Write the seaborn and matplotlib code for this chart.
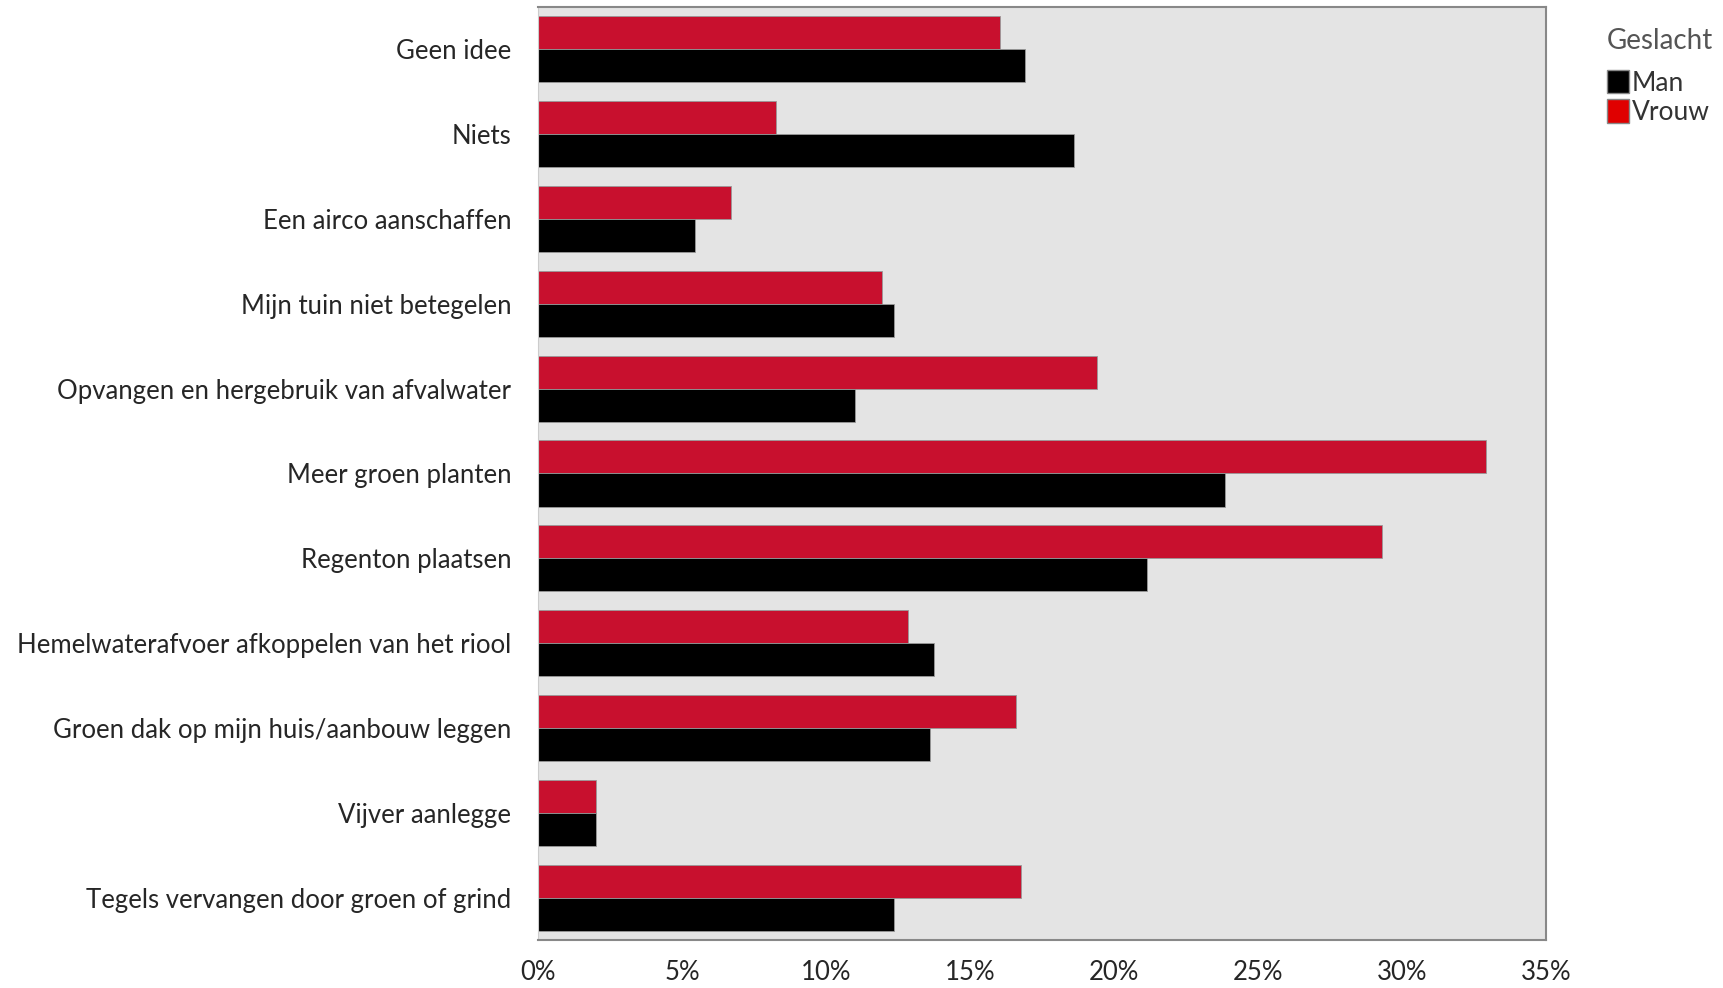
import matplotlib
matplotlib.use("Agg")
import matplotlib.pyplot as plt
import matplotlib.patches as mpatches
from matplotlib.ticker import PercentFormatter
import pandas as pd
import seaborn as sns

# Data (percent)
categories = [
    "Geen idee",
    "Niets",
    "Een airco aanschaffen",
    "Mijn tuin niet betegelen",
    "Opvangen en hergebruik van afvalwater",
    "Meer groen planten",
    "Regenton plaatsen",
    "Hemelwaterafvoer afkoppelen van het riool",
    "Groen dak op mijn huis/aanbouw leggen",
    "Vijver aanlegge",
    "Tegels vervangen door groen of grind",
]
vrouw = [16.05, 8.25, 6.7, 11.95, 19.4, 32.9, 29.3, 12.85, 16.6, 2.0, 16.75]
man = [16.9, 18.6, 5.45, 12.35, 11.0, 23.85, 21.15, 13.75, 13.6, 2.0, 12.35]

df = pd.DataFrame({
    "categorie": categories * 2,
    "geslacht": ["Vrouw"] * len(categories) + ["Man"] * len(categories),
    "pct": vrouw + man,
})

sns.set_style("white")
plt.rcParams["font.family"] = ["Lato", "DejaVu Sans"]

fig = plt.figure(figsize=(17.24, 9.88), dpi=100)
ax = fig.add_axes([0.312, 0.0485, 0.585, 0.9445])

red = "#c8102e"
sns.barplot(data=df, y="categorie", x="pct", hue="geslacht",
            hue_order=["Vrouw", "Man"], palette={"Vrouw": red, "Man": "black"},
            order=categories, width=0.78, orient="h", ax=ax, saturation=1,
            edgecolor="#999999", linewidth=0.6, legend=False)

ax.set_facecolor("#e4e4e4")
ax.set_xlim(0, 35)
ax.set_xticks(range(0, 36, 5))
ax.xaxis.set_major_formatter(PercentFormatter(decimals=0))
ax.set_xlabel("")
ax.set_ylabel("")
ax.tick_params(axis="x", length=8, width=1.2, color="#888888", labelsize=18.5, pad=6)
ax.tick_params(axis="y", length=0, labelsize=18.5, pad=19)
for side in ["top", "right", "bottom"]:
    ax.spines[side].set_color("#888888")
    ax.spines[side].set_linewidth(1.5)
ax.spines["left"].set_color("#cccccc")

# legend: title as separate text so the gap matches
fig.text(0.932, 0.9585, "Geslacht", fontsize=20, color="#555555", va="center", ha="left")
handles = [mpatches.Patch(facecolor="black", edgecolor="#888888", label="Man"),
           mpatches.Patch(facecolor="#e00000", edgecolor="#888888", label="Vrouw")]
leg = fig.legend(handles=handles, loc="upper left",
                 bbox_to_anchor=(0.932, 0.9295), frameon=False, fontsize=19,
                 handlelength=0.85, handleheight=1.0,
                 handletextpad=0.1, labelspacing=0.14, borderpad=0,
                 borderaxespad=0)
for t in leg.get_texts():
    t.set_color("#333333")

fig.savefig("out.png", dpi=100)
